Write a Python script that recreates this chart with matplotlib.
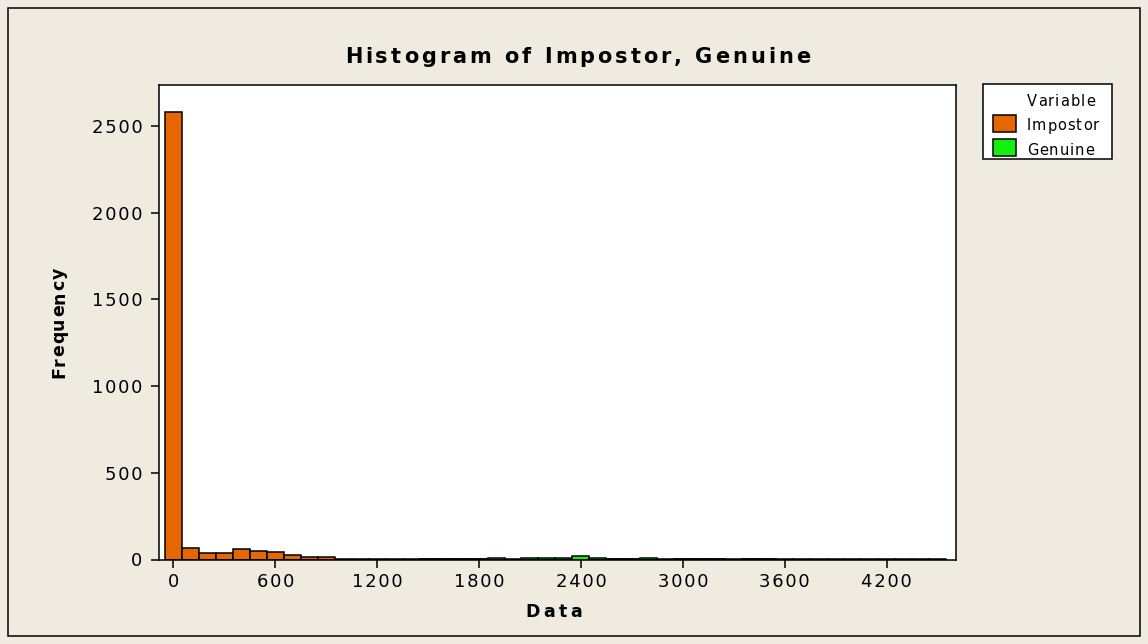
import numpy as np
import matplotlib
matplotlib.use("Agg")
from matplotlib import pyplot as plt
from matplotlib.patches import Rectangle
from matplotlib.ticker import FuncFormatter
from matplotlib.font_manager import FontProperties, findfont, get_font

# histogram bins of width 100, centred on 0, 100, ... 4500
bin_edges = np.arange(-50, 4551, 100)

impostor_counts = [2580, 68, 40, 40, 59, 51, 42, 25, 14, 12,
                   4, 3, 3, 2, 2, 1, 1, 1, 1, 0,
                   0, 0, 0, 0, 0, 0, 1, 1, 0, 0,
                   1, 1, 1, 0, 1, 1, 0, 0, 0, 0,
                   0, 0, 0, 0, 0, 0]
genuine_counts = [0, 0, 0, 0, 0, 0, 0, 0, 0, 0,
                  0, 0, 0, 0, 0, 1, 1, 2, 2, 11,
                  4, 10, 10, 10, 22, 10, 3, 3, 10, 3,
                  2, 2, 1, 1, 1, 1, 1, 1, 1, 1,
                  1, 1, 1, 1, 1, 1]

series_names = ["Impostor", "Genuine"]
series_colors = ["#E66600", "#12F012"]

x_ticks = [0, 600, 1200, 1800, 2400, 3000, 3600, 4200]
y_ticks = [0, 500, 1000, 1500, 2000, 2500]

W, H = 1148, 644
BG = "#EFEBE1"


def spaced_text(fig, x, y, s, size, spacing, weight="normal", rotation=0, ha="center"):
    """
    Draw text char by char with extra letter spacing.
    x, y in pixels from bottom-left, y (or x when rotated) is the baseline.
    """
    prop = FontProperties(family="DejaVu Sans", size=size, weight=weight)
    font = get_font(findfont(prop))
    font.set_size(size, fig.dpi)
    adv = [font.load_char(ord(c)).linearHoriAdvance / 65536 for c in s]
    total = sum(adv) + spacing * (len(s) - 1)
    pos = -{"left": 0, "center": total / 2, "right": total}[ha]
    for c, a in zip(s, adv):
        if rotation == 90:
            px, py = x, y + pos
        else:
            px, py = x + pos, y
        fig.text(px / W, py / H, c, fontproperties=prop, rotation=rotation,
                 rotation_mode="anchor", ha="left", va="baseline")
        pos += a + spacing


def spaced_tick(v, pos):
    # hair spaces between digits, like the wide-tracked original
    return "\u200a".join(str(int(v)))


fig = plt.figure(figsize=(W / 100, H / 100), dpi=100, facecolor=BG)

# outer frame
fig.patches.append(Rectangle((7.5 / W, 8 / H), (1140 - 7.5) / W, (636 - 8) / H,
                             transform=fig.transFigure, fill=False,
                             edgecolor="black", linewidth=1.1))

ax = fig.add_axes([159 / W, (H - 559.5) / H, (955.5 - 159) / W, (559.5 - 85) / H])
ax.set_facecolor("white")

for counts, color in zip([impostor_counts, genuine_counts], series_colors):
    ax.bar(bin_edges[:-1], counts, width=100, align="edge", color=color,
           edgecolor="black", linewidth=1.1)

ax.set_xlim(-84, 4605)
ax.set_ylim(0, 2735)
ax.set_xticks(x_ticks)
ax.set_yticks(y_ticks)
ax.xaxis.set_major_formatter(FuncFormatter(spaced_tick))
ax.yaxis.set_major_formatter(FuncFormatter(spaced_tick))
for sp in ax.spines.values():
    sp.set_linewidth(1.1)
ax.tick_params(axis="both", direction="out", length=5.5, width=1.1, labelsize=13)
ax.tick_params(axis="y", pad=6.5)
ax.tick_params(axis="x", pad=4.5)

spaced_text(fig, 577.5, H - 62.7, "Histogram of Impostor, Genuine", 15, 3, weight="bold")
spaced_text(fig, 554, H - 616.7, "Data", 12.5, 3.5, weight="bold")
spaced_text(fig, 64, H - 323, "Frequency", 12.5, 1, weight="bold", rotation=90)

# legend box
fig.patches.append(Rectangle((983.3 / W, (H - 159.3) / H), 129 / W, 75.3 / H,
                             transform=fig.transFigure, facecolor="white",
                             edgecolor="black", linewidth=1.1))
spaced_text(fig, 1060.8, H - 106, "Variable", 10.5, 1.2)
swatch_tops = [115, 139.3]
for name, color, top in zip(series_names, series_colors, swatch_tops):
    fig.patches.append(Rectangle((992.5 / W, (H - top - 16.5) / H), 23 / W, 16.5 / H,
                                 transform=fig.transFigure, facecolor=color,
                                 edgecolor="black", linewidth=1.1))
    spaced_text(fig, 1026.7, H - top - 15.5, name, 10.5, 1.0, ha="left")

fig.savefig("out.png", dpi=100, facecolor=BG)
